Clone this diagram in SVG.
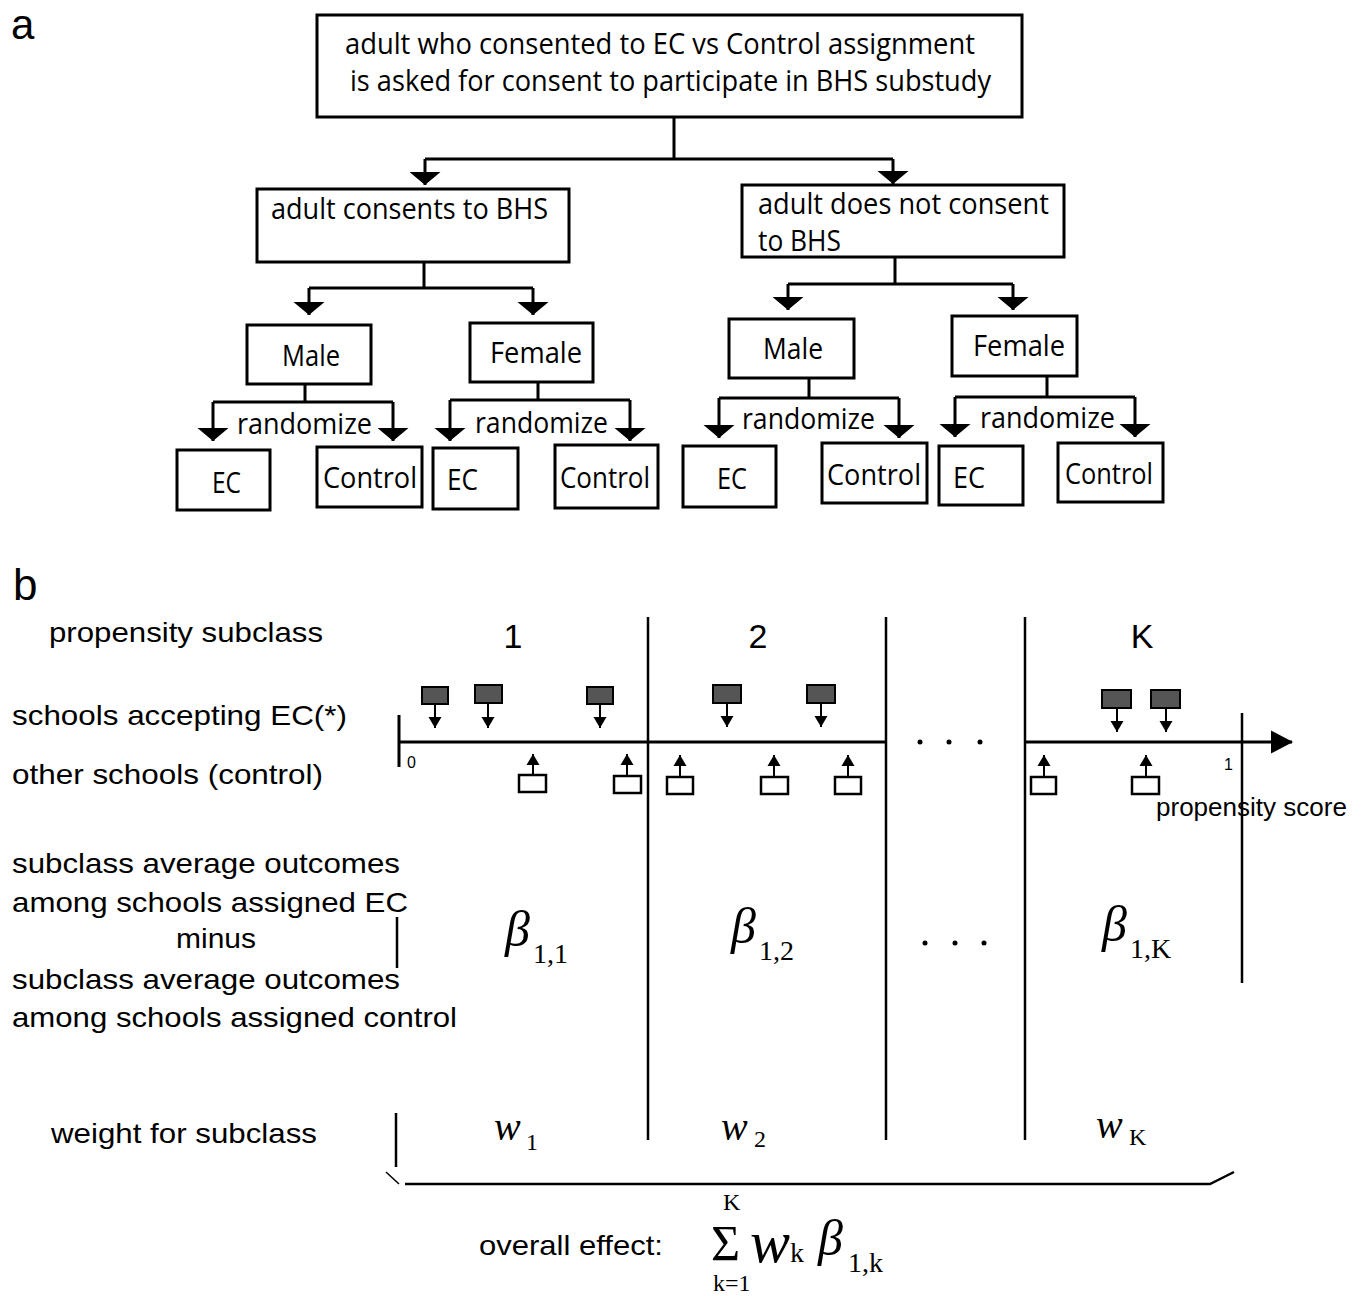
<svg xmlns="http://www.w3.org/2000/svg" width="1365" height="1296" viewBox="0 0 1365 1296">
<style>
.bx{fill:#fff;stroke:#000;stroke-width:3}
.t{font-family:"Open Sans","Noto Sans",sans-serif;font-size:30px;fill:#000}
.c{stroke:#000;stroke-width:3;fill:none}
.arr{stroke:#000;stroke-width:3;fill:none;marker-end:url(#ah)}
.h{font-family:"Liberation Sans",Arial,sans-serif;font-size:28px;fill:#000}
.m{font-family:"Liberation Serif","Times New Roman",serif;fill:#000}
.i{font-style:italic}
.ln{stroke:#000;stroke-width:2.5;fill:none}
.ec{fill:#555;stroke:#000;stroke-width:2}
.ct{fill:#fff;stroke:#000;stroke-width:2.5}
.sa{stroke:#000;stroke-width:2;fill:none;marker-end:url(#sa)}
</style>
<defs>
<marker id="ah" markerUnits="userSpaceOnUse" markerWidth="14" markerHeight="32" refX="13" refY="16" orient="auto" viewBox="0 0 14 32"><path d="M0,0.5 L13,16 L0,31.5 z" fill="#000"/></marker>
<marker id="sa" markerUnits="userSpaceOnUse" markerWidth="12" markerHeight="14" refX="11" refY="7" orient="auto" viewBox="0 0 12 14"><path d="M0,0.5 L11,7 L0,13.5 z" fill="#000"/></marker>
<marker id="big" markerUnits="userSpaceOnUse" markerWidth="22" markerHeight="24" refX="21" refY="12" orient="auto" viewBox="0 0 22 24"><path d="M0,0.5 L22,12 L0,23.5 z" fill="#000"/></marker>
</defs>
<rect width="1365" height="1296" fill="#fff"/>

<text x="11" y="39" class="h" style="font-size:42px">a</text>
<text x="13" y="600" class="h" style="font-size:44px">b</text>

<g id="connectors-a">
<path class="c" d="M674,117 V159 M425,159 H893 M424,262 V288 M309,288 H533 M895,257 V284 M788,284 H1013 M305,384 V402 M213,402 H393 M538,382 V400 M450,400 H630 M809,378 V398 M719,398 H899 M1047,376 V397 M955,397 H1135"/>
<path class="arr" d="M425,159 V185"/>
<path class="arr" d="M893,159 V184"/>
<path class="arr" d="M309,288 V315"/>
<path class="arr" d="M533,288 V315"/>
<path class="arr" d="M788,284 V310"/>
<path class="arr" d="M1013,284 V310"/>
<path class="arr" d="M213,402 V441"/>
<path class="arr" d="M393,402 V441"/>
<path class="arr" d="M450,400 V441"/>
<path class="arr" d="M630,400 V441"/>
<path class="arr" d="M719,398 V438"/>
<path class="arr" d="M899,398 V438"/>
<path class="arr" d="M955,397 V437"/>
<path class="arr" d="M1135,397 V437"/>
</g>

<g id="n-root"><rect class="bx" x="317" y="15" width="705" height="102"/>
<text class="t" x="345" y="54" textLength="630" lengthAdjust="spacingAndGlyphs">adult who consented to EC vs Control assignment</text>
<text class="t" x="350" y="91" textLength="641" lengthAdjust="spacingAndGlyphs">is asked for consent to participate in BHS substudy</text></g>

<g id="n-consent"><rect class="bx" x="257" y="189" width="312" height="73"/>
<text class="t" x="271" y="219" textLength="277" lengthAdjust="spacingAndGlyphs">adult consents to BHS</text></g>

<g id="n-noconsent"><rect class="bx" x="742" y="185" width="322" height="72"/>
<text class="t" x="758" y="214" textLength="291" lengthAdjust="spacingAndGlyphs">adult does not consent</text>
<text class="t" x="758" y="251" textLength="83" lengthAdjust="spacingAndGlyphs">to BHS</text></g>

<g id="n-male1"><rect class="bx" x="247" y="325" width="124" height="59"/>
<text class="t" x="282" y="366" textLength="58" lengthAdjust="spacingAndGlyphs">Male</text></g>
<g id="n-female1"><rect class="bx" x="470" y="323" width="123" height="59"/>
<text class="t" x="490" y="363" textLength="92" lengthAdjust="spacingAndGlyphs">Female</text></g>
<g id="n-male2"><rect class="bx" x="729" y="319" width="125" height="59"/>
<text class="t" x="763" y="359" textLength="60" lengthAdjust="spacingAndGlyphs">Male</text></g>
<g id="n-female2"><rect class="bx" x="952" y="316" width="125" height="60"/>
<text class="t" x="973" y="356" textLength="92" lengthAdjust="spacingAndGlyphs">Female</text></g>

<g id="randomize-labels">
<text class="t" x="237" y="434" textLength="135" lengthAdjust="spacingAndGlyphs">randomize</text>
<text class="t" x="475" y="433" textLength="133" lengthAdjust="spacingAndGlyphs">randomize</text>
<text class="t" x="742" y="429" textLength="133" lengthAdjust="spacingAndGlyphs">randomize</text>
<text class="t" x="980" y="428" textLength="135" lengthAdjust="spacingAndGlyphs">randomize</text>
</g>

<g id="n-ec1"><rect class="bx" x="177" y="450" width="93" height="60"/><text class="t" x="212" y="493" textLength="29" lengthAdjust="spacingAndGlyphs">EC</text></g>
<g id="n-ctl1"><rect class="bx" x="317" y="447" width="105" height="60"/><text class="t" x="323" y="488" textLength="94" lengthAdjust="spacingAndGlyphs">Control</text></g>
<g id="n-ec2"><rect class="bx" x="433" y="448" width="85" height="61"/><text class="t" x="447" y="490" textLength="31" lengthAdjust="spacingAndGlyphs">EC</text></g>
<g id="n-ctl2"><rect class="bx" x="555" y="445" width="103" height="63"/><text class="t" x="560" y="488" textLength="90" lengthAdjust="spacingAndGlyphs">Control</text></g>
<g id="n-ec3"><rect class="bx" x="683" y="446" width="93" height="61"/><text class="t" x="717" y="489" textLength="30" lengthAdjust="spacingAndGlyphs">EC</text></g>
<g id="n-ctl3"><rect class="bx" x="822" y="443" width="105" height="60"/><text class="t" x="827" y="485" textLength="94" lengthAdjust="spacingAndGlyphs">Control</text></g>
<g id="n-ec4"><rect class="bx" x="939" y="446" width="84" height="59"/><text class="t" x="953" y="488" textLength="32" lengthAdjust="spacingAndGlyphs">EC</text></g>
<g id="n-ctl4"><rect class="bx" x="1058" y="443" width="105" height="59"/><text class="t" x="1065" y="484" textLength="88" lengthAdjust="spacingAndGlyphs">Control</text></g>

<g id="row-labels">
<text class="h" x="49" y="642" textLength="274" lengthAdjust="spacingAndGlyphs">propensity subclass</text>
<text class="h" x="12" y="725" textLength="335" lengthAdjust="spacingAndGlyphs">schools accepting EC(*)</text>
<text class="h" x="12" y="784" textLength="311" lengthAdjust="spacingAndGlyphs">other schools (control)</text>
<text class="h" x="12" y="873" textLength="388" lengthAdjust="spacingAndGlyphs">subclass average outcomes</text>
<text class="h" x="12" y="912" textLength="396" lengthAdjust="spacingAndGlyphs">among schools assigned EC</text>
<text class="h" x="176" y="948" textLength="80" lengthAdjust="spacingAndGlyphs">minus</text>
<text class="h" x="12" y="989" textLength="388" lengthAdjust="spacingAndGlyphs">subclass average outcomes</text>
<text class="h" x="12" y="1027" textLength="445" lengthAdjust="spacingAndGlyphs">among schools assigned control</text>
<text class="h" x="51" y="1143" textLength="266" lengthAdjust="spacingAndGlyphs">weight for subclass</text>
<text class="h" x="479" y="1255" textLength="184" lengthAdjust="spacingAndGlyphs">overall effect:</text>
</g>

<g id="subclass-numbers">
<text class="h" x="513" y="648" text-anchor="middle" style="font-size:34px">1</text>
<text class="h" x="758" y="648" text-anchor="middle" style="font-size:34px">2</text>
<text class="h" x="1142" y="648" text-anchor="middle" style="font-size:34px">K</text>
</g>

<g id="grid">
<path class="ln" d="M648,617 V1140 M886,617 V1140 M1025,617 V1140 M1242,713 V983 M397,917 V968 M396,1113 V1167"/>
<path class="c" d="M399,715 V767"/>
<path class="c" d="M400,742 H886"/>
<path class="c" d="M1025,742 H1292" style="marker-end:url(#big)"/>
<circle cx="920" cy="742" r="2.5"/><circle cx="949" cy="742" r="2.5"/><circle cx="980" cy="742" r="2.5"/>
<text class="h" x="407" y="768" style="font-size:16px">0</text>
<text class="h" x="1224" y="770" style="font-size:16px">1</text>
<text class="h" x="1156" y="816" textLength="191" lengthAdjust="spacingAndGlyphs" style="font-size:25px">propensity score</text>
</g>

<g id="ec-schools">
<rect class="ec" x="422" y="687" width="26" height="17"/><path class="sa" d="M435,704 V728"/>
<rect class="ec" x="475" y="685" width="27" height="18"/><path class="sa" d="M488,703 V728"/>
<rect class="ec" x="587" y="687" width="26" height="17"/><path class="sa" d="M600,704 V728"/>
<rect class="ec" x="713" y="685" width="28" height="18"/><path class="sa" d="M727,703 V727"/>
<rect class="ec" x="807" y="685" width="28" height="18"/><path class="sa" d="M821,703 V727"/>
<rect class="ec" x="1102" y="690" width="29" height="18"/><path class="sa" d="M1117,708 V732"/>
<rect class="ec" x="1151" y="690" width="29" height="18"/><path class="sa" d="M1166,708 V732"/>
</g>

<g id="control-schools">
<rect class="ct" x="519" y="775" width="27" height="17"/><path class="sa" d="M533,775 V754"/>
<rect class="ct" x="614" y="776" width="27" height="17"/><path class="sa" d="M627,776 V754"/>
<rect class="ct" x="667" y="777" width="26" height="17"/><path class="sa" d="M680,777 V755"/>
<rect class="ct" x="761" y="777" width="27" height="17"/><path class="sa" d="M774,777 V755"/>
<rect class="ct" x="835" y="777" width="26" height="17"/><path class="sa" d="M848,777 V755"/>
<rect class="ct" x="1031" y="777" width="25" height="17"/><path class="sa" d="M1044,777 V755"/>
<rect class="ct" x="1132" y="777" width="27" height="17"/><path class="sa" d="M1146,777 V755"/>
</g>

<g id="betas">
<text class="m i" x="505" y="946" style="font-size:50px">β</text><text class="m" x="533" y="963" style="font-size:28px">1,1</text>
<text class="m i" x="731" y="943" style="font-size:50px">β</text><text class="m" x="759" y="960" style="font-size:28px">1,2</text>
<text class="m i" x="1102" y="941" style="font-size:50px">β</text><text class="m" x="1130" y="958" style="font-size:28px">1,K</text>
<circle cx="925" cy="943" r="2.5"/><circle cx="955" cy="943" r="2.5"/><circle cx="984" cy="943" r="2.5"/>
</g>

<g id="weights">
<text class="m i" x="494" y="1140" style="font-size:40px">w</text><text class="m" x="526" y="1150" style="font-size:24px">1</text>
<text class="m i" x="721" y="1140" style="font-size:40px">w</text><text class="m" x="754" y="1147" style="font-size:24px">2</text>
<text class="m i" x="1096" y="1138" style="font-size:40px">w</text><text class="m" x="1129" y="1145" style="font-size:24px">K</text>
</g>

<g id="brace">
<path d="M405,1184 H1210 L1234,1172" stroke="#000" stroke-width="2.5" fill="none"/>
<path d="M386,1172 L399,1184" stroke="#000" stroke-width="1.5" fill="none"/>
</g>

<g id="formula">
<text class="m" x="723" y="1210" style="font-size:24px">K</text>
<text class="m" x="711" y="1260" style="font-size:50px">Σ</text>
<text class="m i" x="750" y="1262" style="font-size:60px">w</text>
<text class="m" x="790" y="1262" style="font-size:28px">k</text>
<text class="m i" x="818" y="1255" style="font-size:50px">β</text>
<text class="m" x="848" y="1272" style="font-size:28px">1,k</text>
<text class="m" x="713" y="1291" style="font-size:24px">k=1</text>
</g>
</svg>
